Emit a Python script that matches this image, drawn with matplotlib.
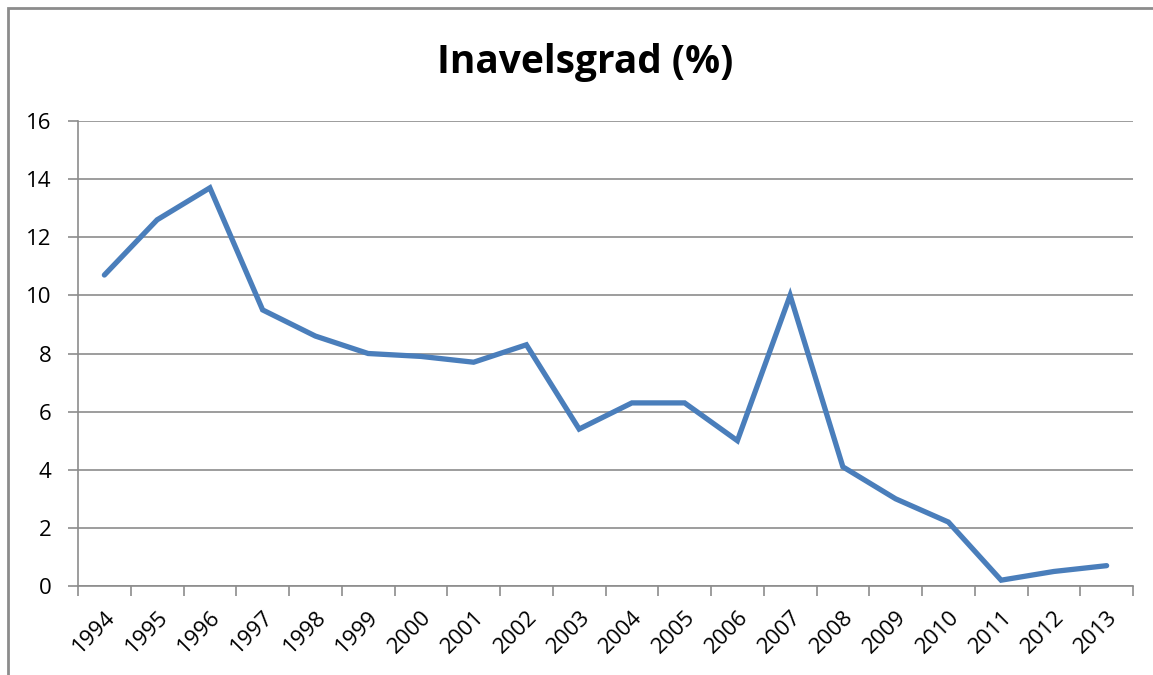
import matplotlib
matplotlib.use("Agg")
import matplotlib.pyplot as plt
from matplotlib.patches import Rectangle
import numpy as np

plt.rcParams['font.family'] = ['Open Sans', 'DejaVu Sans']

years = ["1994", "1995", "1996", "1997", "1998", "1999", "2000", "2001", "2002", "2003",
         "2004", "2005", "2006", "2007", "2008", "2009", "2010", "2011", "2012", "2013"]
inavel = [10.7, 12.6, 13.7, 9.5, 8.6, 8.0, 7.9, 7.7, 8.3, 5.4,
          6.3, 6.3, 5.0, 10.0, 4.1, 3.0, 2.2, 0.2, 0.5, 0.7]
yticks = [0, 2, 4, 6, 8, 10, 12, 14, 16]

W, H = 1153, 675
fig = plt.figure(figsize=(W / 100, H / 100), dpi=100)

# outer chart border (runs off the right and bottom edges)
fig.patches.append(Rectangle((8 / W, -0.05), 1.2, 1 - 8 / H + 0.05,
                             transform=fig.transFigure, fill=False,
                             edgecolor="#8c8c8c", linewidth=2))

ax = fig.add_axes([78 / W, 1 - 586 / H, (1133 - 78) / W, (586 - 121) / H])

x = np.arange(len(years))
ax.plot(x, inavel, color="#4a7ebb", linewidth=3.8, solid_joinstyle="miter",
        solid_capstyle="round", zorder=3)

ax.set_xlim(-0.5, len(years) - 0.5)
ax.set_ylim(0, 16)
ax.set_yticks(yticks)
ax.set_yticklabels([str(v) for v in yticks], fontsize=16)
ax.yaxis.grid(True, color="#8c8c8c", linewidth=1.2)
ax.set_axisbelow(True)

# ticks at category boundaries, labels at centres
ax.set_xticks(np.arange(len(years) + 1) - 0.5)
ax.set_xticklabels([])
ax.set_xticks(x, minor=True)
ax.set_xticklabels(years, minor=True, rotation=45, ha="right", va="top",
                   rotation_mode="anchor", fontsize=16)
ax.tick_params(axis="x", which="minor", length=0, pad=15)
ax.tick_params(axis="x", which="major", length=7, color="#8c8c8c", width=1.2)
ax.tick_params(axis="y", length=7, color="#8c8c8c", width=1.2, pad=12)

for s in ["top", "right"]:
    ax.spines[s].set_visible(False)
for s in ["left", "bottom"]:
    ax.spines[s].set_color("#8c8c8c")
    ax.spines[s].set_linewidth(1.2)

fig.text(585 / W, 1 - 62 / H, "Inavelsgrad (%)", ha="center", va="center",
         fontsize=28, fontweight="bold")

fig.savefig("out.png", dpi=100)
